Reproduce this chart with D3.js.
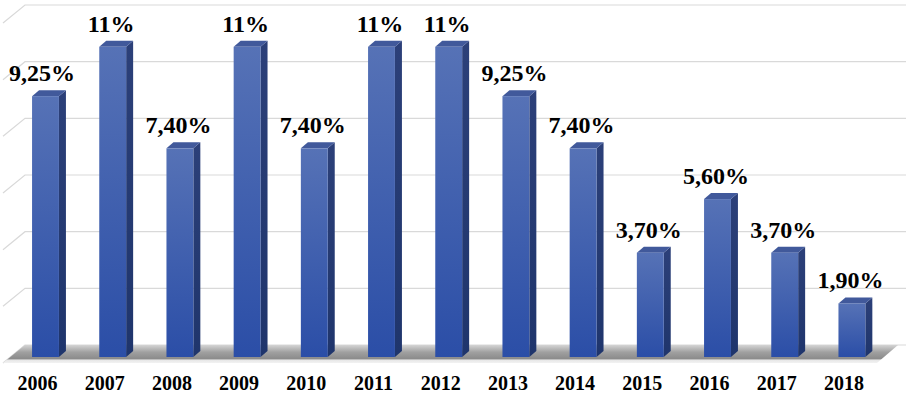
<!DOCTYPE html>
<html><head><meta charset="utf-8">
<script src="https://cdn.jsdelivr.net/npm/d3@7"></script>
<style>html,body{margin:0;padding:0;background:#fff;}svg{display:block;}
.lbl{font-family:"Liberation Serif","Times New Roman",Times,serif;font-weight:bold;fill:#000;}
</style>
</head><body>
<svg id="c" width="906" height="393"></svg>
<script>
const years = ["2006","2007","2008","2009","2010","2011","2012","2013","2014","2015","2016","2017","2018"];
const values = [9.25, 11, 7.4, 11, 7.4, 11, 11, 9.25, 7.4, 3.7, 5.6, 3.7, 1.9];
const valueLabels = ["9,25%","11%","7,40%","11%","7,40%","11%","11%","9,25%","7,40%","3,70%","5,60%","3,70%","1,90%"];
const gridTicks = [0, 2, 4, 6, 8, 10, 12];

const svg = d3.select("#c");
const W = 906, H = 393;
const depthX = 7, depthY = 6;
const wallX = 22, wallY = 18;

const x = d3.scaleBand().domain(years).range([11.9, 885.5]).paddingInner(0.6).paddingOuter(0.3);
const y = d3.scaleLinear().domain([0, 12]).range([357, 357 - 12 * 28.2]);
const yBack = d3.scaleLinear().domain([0, 12]).range([345, 5]);

const defs = svg.append("defs");
const gf = defs.append("linearGradient").attr("id","front").attr("x1",0).attr("y1",0).attr("x2",0).attr("y2",1);
gf.append("stop").attr("offset","0%").attr("stop-color","#5672b6");
gf.append("stop").attr("offset","100%").attr("stop-color","#2b4ea7");
const gs = defs.append("linearGradient").attr("id","side").attr("x1",0).attr("y1",0).attr("x2",0).attr("y2",1);
gs.append("stop").attr("offset","0%").attr("stop-color","#2c4079");
gs.append("stop").attr("offset","100%").attr("stop-color","#1f356c");
const gfl = defs.append("linearGradient").attr("id","floor").attr("x1",0).attr("y1",0).attr("x2",0).attr("y2",1);
gfl.append("stop").attr("offset","0%").attr("stop-color","#d4d4d4");
gfl.append("stop").attr("offset","40%").attr("stop-color","#a0a0a0");
gfl.append("stop").attr("offset","75%").attr("stop-color","#8c8c8c");
gfl.append("stop").attr("offset","85%").attr("stop-color","#e8e8e8");
gfl.append("stop").attr("offset","100%").attr("stop-color","#f2f2f2");

const grid = svg.append("g");
gridTicks.forEach(t => {
  const yb = yBack(t);
  grid.append("path")
    .attr("d", `M${3},${yb + wallY} L${3 + wallX},${yb} L${W},${yb}`)
    .attr("fill","none").attr("stroke","#d9d9d9").attr("stroke-width",1.2);
});

const fy0 = yBack(0), fy1 = fy0 + wallY;
svg.append("path")
  .attr("d", `M${3},${fy1} L${3 + wallX},${fy0} L${898},${fy0} L${877},${fy1} Z`)
  .attr("fill","url(#floor)");

const bars = svg.append("g").selectAll("g").data(years).join("g");
bars.each(function(yr, i) {
  const g = d3.select(this);
  const x0 = x(yr), bw = x.bandwidth();
  const yt = y(values[i]), yb = y(0);
  g.append("path")
    .attr("d", `M${x0 + bw},${yt} L${x0 + bw + depthX},${yt - depthY} L${x0 + bw + depthX},${yb - depthY} L${x0 + bw},${yb} Z`)
    .attr("fill","url(#side)");
  g.append("path")
    .attr("d", `M${x0},${yt} L${x0 + depthX},${yt - depthY} L${x0 + bw + depthX},${yt - depthY} L${x0 + bw},${yt} Z`)
    .attr("fill","#41599b");
  g.append("rect").attr("x", x0).attr("y", yt).attr("width", bw).attr("height", yb - yt)
    .attr("fill","url(#front)");
});

const vl = svg.append("g");
years.forEach((yr, i) => {
  const cx = x(yr) + x.bandwidth() / 2 - 1.5;
  vl.append("text").attr("class","lbl").style("font-size","24px").attr("text-anchor","middle")
    .attr("x", i === 0 ? cx - 2 : cx).attr("y", y(values[i]) - depthY - 9).text(valueLabels[i]);
});

const xl = svg.append("g");
years.forEach(yr => {
  xl.append("text").attr("class","lbl").style("font-size","20px").attr("text-anchor","middle")
    .attr("x", x(yr) + x.bandwidth() / 2 - 8).attr("y", 390).text(yr);
});
</script>
</body></html>
